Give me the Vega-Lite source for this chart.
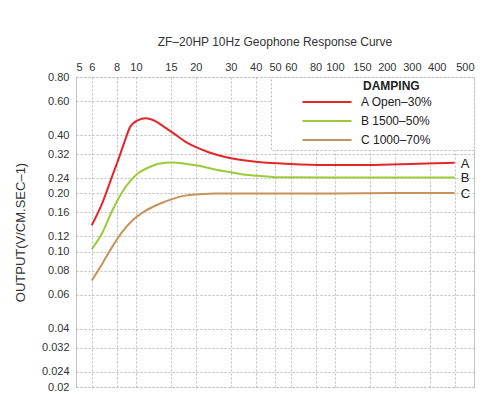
{
  "$schema": "https://vega.github.io/schema/vega-lite/v6.json",
  "width": 398,
  "height": 310,
  "autosize": {"type": "none"},
  "padding": {"left": 76, "top": 77, "right": 26, "bottom": 10},
  "background": "white",
  "config": {
    "font": "Liberation Sans",
    "view": {"stroke": "#b8b8b8", "strokeDash": [2, 2], "strokeWidth": 1},
    "axis": {"gridColor": "#bdbdbd", "gridDash": [2, 2], "gridWidth": 1, "gridOpacity": 1, "ticks": false, "domain": false, "labelColor": "#333", "labelFontSize": 11, "labelFont": "Liberation Sans"}
  },
  "title": {"text": "ZF–20HP 10Hz Geophone Response Curve", "fontSize": 12, "fontWeight": "normal", "color": "#333", "anchor": "middle", "offset": 12},
  "data": {"values": [
    {"s": "A", "damping": "A Open–30%", "f": 6, "v": 0.137},
    {"s": "A", "damping": "A Open–30%", "f": 6.8, "v": 0.18},
    {"s": "A", "damping": "A Open–30%", "f": 7.6, "v": 0.246},
    {"s": "A", "damping": "A Open–30%", "f": 8.2, "v": 0.304},
    {"s": "A", "damping": "A Open–30%", "f": 8.9, "v": 0.387},
    {"s": "A", "damping": "A Open–30%", "f": 9.4, "v": 0.446},
    {"s": "A", "damping": "A Open–30%", "f": 10.2, "v": 0.477},
    {"s": "A", "damping": "A Open–30%", "f": 11.2, "v": 0.489},
    {"s": "A", "damping": "A Open–30%", "f": 12.5, "v": 0.473},
    {"s": "A", "damping": "A Open–30%", "f": 14.1, "v": 0.437},
    {"s": "A", "damping": "A Open–30%", "f": 15.8, "v": 0.403},
    {"s": "A", "damping": "A Open–30%", "f": 17.7, "v": 0.371},
    {"s": "A", "damping": "A Open–30%", "f": 19.9, "v": 0.348},
    {"s": "A", "damping": "A Open–30%", "f": 23.2, "v": 0.327},
    {"s": "A", "damping": "A Open–30%", "f": 28.1, "v": 0.309},
    {"s": "A", "damping": "A Open–30%", "f": 34, "v": 0.298},
    {"s": "A", "damping": "A Open–30%", "f": 41, "v": 0.291},
    {"s": "A", "damping": "A Open–30%", "f": 50, "v": 0.287},
    {"s": "A", "damping": "A Open–30%", "f": 82, "v": 0.281},
    {"s": "A", "damping": "A Open–30%", "f": 146, "v": 0.281},
    {"s": "A", "damping": "A Open–30%", "f": 260, "v": 0.285},
    {"s": "A", "damping": "A Open–30%", "f": 400, "v": 0.288},
    {"s": "B", "damping": "B 1500–50%", "f": 6, "v": 0.103},
    {"s": "B", "damping": "B 1500–50%", "f": 6.8, "v": 0.126},
    {"s": "B", "damping": "B 1500–50%", "f": 7.6, "v": 0.163},
    {"s": "B", "damping": "B 1500–50%", "f": 8.5, "v": 0.202},
    {"s": "B", "damping": "B 1500–50%", "f": 9.4, "v": 0.233},
    {"s": "B", "damping": "B 1500–50%", "f": 10.3, "v": 0.255},
    {"s": "B", "damping": "B 1500–50%", "f": 11.6, "v": 0.273},
    {"s": "B", "damping": "B 1500–50%", "f": 13, "v": 0.285},
    {"s": "B", "damping": "B 1500–50%", "f": 15.2, "v": 0.289},
    {"s": "B", "damping": "B 1500–50%", "f": 17.7, "v": 0.285},
    {"s": "B", "damping": "B 1500–50%", "f": 20.7, "v": 0.278},
    {"s": "B", "damping": "B 1500–50%", "f": 25, "v": 0.266},
    {"s": "B", "damping": "B 1500–50%", "f": 30.3, "v": 0.257},
    {"s": "B", "damping": "B 1500–50%", "f": 35.4, "v": 0.25},
    {"s": "B", "damping": "B 1500–50%", "f": 41, "v": 0.247},
    {"s": "B", "damping": "B 1500–50%", "f": 50, "v": 0.243},
    {"s": "B", "damping": "B 1500–50%", "f": 100, "v": 0.242},
    {"s": "B", "damping": "B 1500–50%", "f": 200, "v": 0.242},
    {"s": "B", "damping": "B 1500–50%", "f": 400, "v": 0.242},
    {"s": "C", "damping": "C 1000–70%", "f": 6, "v": 0.071},
    {"s": "C", "damping": "C 1000–70%", "f": 6.8, "v": 0.0873},
    {"s": "C", "damping": "C 1000–70%", "f": 7.6, "v": 0.106},
    {"s": "C", "damping": "C 1000–70%", "f": 8.5, "v": 0.126},
    {"s": "C", "damping": "C 1000–70%", "f": 9.6, "v": 0.145},
    {"s": "C", "damping": "C 1000–70%", "f": 11.2, "v": 0.163},
    {"s": "C", "damping": "C 1000–70%", "f": 13, "v": 0.176},
    {"s": "C", "damping": "C 1000–70%", "f": 15.2, "v": 0.187},
    {"s": "C", "damping": "C 1000–70%", "f": 17.7, "v": 0.195},
    {"s": "C", "damping": "C 1000–70%", "f": 20.7, "v": 0.198},
    {"s": "C", "damping": "C 1000–70%", "f": 25, "v": 0.2},
    {"s": "C", "damping": "C 1000–70%", "f": 30.3, "v": 0.2},
    {"s": "C", "damping": "C 1000–70%", "f": 41, "v": 0.2},
    {"s": "C", "damping": "C 1000–70%", "f": 100, "v": 0.2},
    {"s": "C", "damping": "C 1000–70%", "f": 200, "v": 0.201},
    {"s": "C", "damping": "C 1000–70%", "f": 400, "v": 0.201}
  ]},
  "encoding": {
    "x": {"field": "f", "type": "quantitative",
      "scale": {"type": "log", "domain": [5, 500], "nice": false},
      "axis": {"orient": "top", "title": null, "values": [5, 6, 8, 10, 15, 20, 30, 40, 50, 60, 80, 100, 150, 200, 300, 400, 500], "format": "d", "labelPadding": 5, "labelOverlap": false, "labelFlush": false,
        "labelAlign": {"condition": [{"test": "datum.value >= 499", "value": "right"}, {"test": "datum.value <= 5.01", "value": "left"}], "value": "center"},
        "labelOffset": {"condition": [{"test": "datum.value >= 299 && datum.value <= 401", "value": -18}, {"test": "datum.value >= 149 && datum.value <= 201", "value": -8}], "value": 0}}},
    "y": {"field": "v", "type": "quantitative",
      "scale": {"type": "log", "domain": [0.02, 0.8], "nice": false},
      "axis": {"title": "OUTPUT(V/CM.SEC–1)", "titleFontSize": 13, "titleFontWeight": "normal", "titleColor": "#333", "titlePadding": 14, "labelOverlap": false,
        "values": [0.02, 0.024, 0.032, 0.04, 0.06, 0.08, 0.1, 0.12, 0.16, 0.2, 0.24, 0.32, 0.4, 0.6, 0.8],
        "labelExpr": "(datum.value == 0.024 || datum.value == 0.032) ? format(datum.value, '.3f') : format(datum.value, '.2f')",
        "labelPadding": 7}}
  },
  "layer": [
    {
      "mark": {"type": "line", "strokeWidth": 2, "interpolate": "monotone"},
      "encoding": {
        "color": {"field": "damping", "type": "nominal",
          "scale": {"domain": ["A Open–30%", "B 1500–50%", "C 1000–70%"], "range": ["#e2262a", "#9bcb3b", "#c8935a"]},
          "legend": {"orient": "top-right", "offset": 0, "title": "DAMPING", "titleFontSize": 12, "titleFontWeight": "bold", "titleColor": "#222", "titlePadding": 3,
            "labelFontSize": 12, "labelColor": "#222", "labelOffset": 28, "rowPadding": 7,
            "symbolType": "M-4.9,0H4.9", "symbolSize": 100, "symbolStrokeWidth": 2, "symbolOffset": 46,
            "fillColor": "white", "strokeColor": "#b8b8b8", "padding": 4,
            "labelExpr": "datum.label + '\u00a0\u00a0\u00a0\u00a0\u00a0\u00a0\u00a0\u00a0\u00a0\u00a0\u00a0\u200b'",
            "encode": {"title": {"update": {"dx": {"value": 88}}}, "legend": {"update": {"strokeDash": {"value": [2, 2]}}}}}
        }
      }
    },
    {
      "transform": [{"filter": "datum.f == 400"}],
      "mark": {"type": "text", "align": "left", "baseline": "middle", "dx": 6, "dy": 1, "fontSize": 13, "color": "#222"},
      "encoding": {"text": {"field": "s", "type": "nominal"}}
    }
  ]
}
